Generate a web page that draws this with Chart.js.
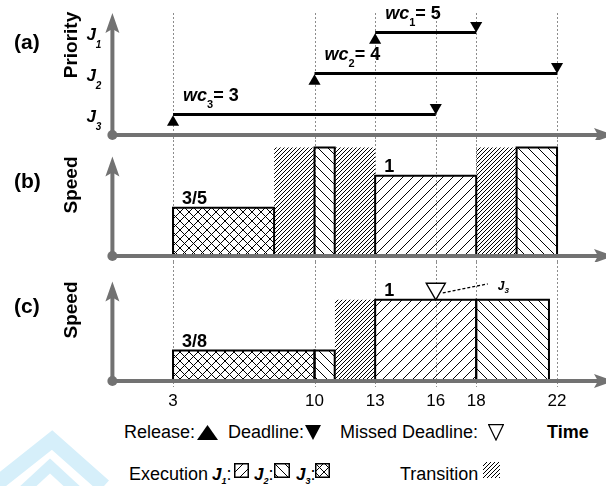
<!DOCTYPE html>
<html>
<head>
<meta charset="utf-8">
<title>Speed schedule</title>
<script src="https://cdn.jsdelivr.net/npm/chart.js@4.4.1/dist/chart.umd.min.js"></script>
<style>
  html, body { margin: 0; padding: 0; background: #fff; }
  body { position: relative; width: 606px; height: 486px; overflow: hidden;
         font-family: 'Liberation Sans', Arial, Helvetica, sans-serif; color: #000; }
  canvas.panel { position: absolute; left: 0; }
  .t { position: absolute; white-space: nowrap; line-height: 1; }
  .b { font-weight: bold; }
  .rot { transform: translate(-50%, -50%) rotate(-90deg); }
  .leg { font-size: 18px; }
  .j { font-weight: bold; font-style: italic; font-size: 17px; }
  .sub { font-size: 9px; position: relative; top: 4px; }
  .sw { position: absolute; }
</style>
</head>
<body>
<svg style="position:absolute;left:0;top:420px" width="200" height="66">
  <polyline points="-6,66 52,20 104,66" fill="none" stroke="#d6effa" stroke-width="15"/>
  <polyline points="24,70 50,46 76,70" fill="none" stroke="#d6effa" stroke-width="11"/>
</svg>

<canvas id="panelA" class="panel" width="606" height="140" style="top:0"></canvas>
<canvas id="panelB" class="panel" width="606" height="122" style="top:140px"></canvas>
<canvas id="panelC" class="panel" width="606" height="150" style="top:262px"></canvas>

<div class="t b" style="left:14px;top:31px;font-size:21px">(a)</div>
<div class="t b rot" style="left:70px;top:45px;font-size:19px">Priority</div>
<div class="t b" style="left:14px;top:170px;font-size:21px">(b)</div>
<div class="t b rot" style="left:70px;top:185px;font-size:19px">Speed</div>
<div class="t b" style="left:14px;top:295px;font-size:21px">(c)</div>
<div class="t b rot" style="left:70px;top:310px;font-size:19px">Speed</div>

<!-- legend row 1 -->
<div class="t leg" style="left:124px;top:423px">Release:</div>
<svg class="sw" style="left:197px;top:425px" width="21" height="15"><polygon points="10.5,0 21,15 0,15" fill="#000"/></svg>
<div class="t leg" style="left:228px;top:423px">Deadline:</div>
<svg class="sw" style="left:305px;top:425px" width="16" height="15"><polygon points="0,0 16,0 8,15" fill="#000"/></svg>
<div class="t leg" style="left:340px;top:423px">Missed Deadline:</div>
<svg class="sw" style="left:488px;top:424px" width="16" height="17"><polygon points="0.7,0.7 15.3,0.7 8,16" fill="#fff" stroke="#000" stroke-width="1.2"/></svg>
<div class="t leg b" style="left:547px;top:423px">Time</div>

<!-- legend row 2 -->
<div class="t leg" style="left:129px;top:465px">Execution</div>
<div class="t leg" style="left:212px;top:465px"><span class="j">J</span><span class="j sub">1</span>:</div>
<canvas class="sw" id="swJ1" width="15" height="15" style="left:234px;top:463px"></canvas>
<div class="t leg" style="left:254px;top:465px"><span class="j">J</span><span class="j sub">2</span>:</div>
<canvas class="sw" id="swJ2" width="16" height="15" style="left:274px;top:463px"></canvas>
<div class="t leg" style="left:296px;top:465px"><span class="j">J</span><span class="j sub">3</span>:</div>
<canvas class="sw" id="swJ3" width="15" height="15" style="left:315px;top:463px"></canvas>
<div class="t leg" style="left:400px;top:465px">Transition</div>
<canvas class="sw" id="swT" width="17" height="16" style="left:483px;top:462px"></canvas>

<script>
const FONT = "'Liberation Sans', Arial, Helvetica, sans-serif";
Chart.defaults.font.family = FONT;

// time axis
const tickTimes = [3, 10, 13, 16, 18, 22];
const timeMax = 24.15;

// (a) jobs: priority rows, release times, deadlines, worst-case cycles
const jobNames = ['1', '2', '3'];
const releases = [13, 10, 3];
const deadlines = [18, 22, 16];
const workloads = [5, 4, 3];
const priorityRows = [2.5, 1.5, 0.5];

// (b) schedule, T = transition
const schedBJobs = ['J3', 'T', 'J2', 'T', 'J1', 'T', 'J2'];
const schedBStart = [3, 8, 10, 11, 13, 18, 20];
const schedBEnd = [8, 10, 11, 13, 18, 20, 22];
const schedBSpeed = [0.6, 1.35, 1.35, 1.35, 1, 1.35, 1.35];
const schedBText = ['3/5', '', '', '', '1', '', ''];

// (c) schedule
const schedCJobs = ['J3', 'J2', 'T', 'J1', 'J2'];
const schedCStart = [3, 10, 11, 13, 18];
const schedCEnd = [10, 11, 13, 18, 21.6];
const schedCSpeed = [0.375, 0.375, 1, 1, 1];
const schedCText = ['3/8', '', '', '1', ''];
const missedTimes = [16];
const missedJobs = ['3'];

const AXIS = '#727272';

function hatchTile(kind) {
  const size = { J1: 10, J2: 10, J3: 9, T: 4 }[kind];
  const c = document.createElement('canvas');
  c.width = c.height = size;
  const g = c.getContext('2d');
  g.strokeStyle = '#000';
  g.lineWidth = 1;
  const fwd = () => {
    g.beginPath();
    g.moveTo(-1, size + 1); g.lineTo(size + 1, -1);
    g.moveTo(-1, 1); g.lineTo(1, -1);
    g.moveTo(size - 1, size + 1); g.lineTo(size + 1, size - 1);
    g.stroke();
  };
  const back = () => {
    g.beginPath();
    g.moveTo(-1, -1); g.lineTo(size + 1, size + 1);
    g.moveTo(size - 1, -1); g.lineTo(size + 1, 1);
    g.moveTo(-1, size - 1); g.lineTo(1, size + 1);
    g.stroke();
  };
  if (kind === 'J1' || kind === 'T') fwd();
  if (kind === 'J2') back();
  if (kind === 'J3') { fwd(); back(); }
  return c;
}

function patternsFor(ctx) {
  const p = {};
  ['J1', 'J2', 'J3', 'T'].forEach(k => { p[k] = ctx.createPattern(hatchTile(k), 'repeat'); });
  return p;
}

// text with a subscript: main (italic bold), sub, tail (bold)
function subText(ctx, x, base, main, sub, tail, size, subSize, drop, subItalic) {
  ctx.save();
  ctx.fillStyle = '#000';
  ctx.textBaseline = 'alphabetic';
  ctx.textAlign = 'left';
  ctx.font = `italic bold ${size}px ${FONT}`;
  ctx.fillText(main, x, base);
  x += ctx.measureText(main).width;
  ctx.font = `${subItalic ? 'italic ' : ''}bold ${subSize}px ${FONT}`;
  ctx.fillText(sub, x, base + drop);
  x += ctx.measureText(sub).width;
  if (tail) {
    ctx.font = `bold ${size}px ${FONT}`;
    ctx.fillText(tail, x, base);
  }
  ctx.restore();
}

function decor(opts) {
  return {
    id: 'decor',
    beforeDatasetsDraw(chart) {
      const { ctx, scales: { x } } = chart;
      ctx.save();
      ctx.strokeStyle = '#8c8c8c';
      ctx.lineWidth = 1;
      ctx.setLineDash([2, 2]);
      tickTimes.forEach(t => {
        const px = Math.round(x.getPixelForValue(t)) + 0.5;
        ctx.beginPath();
        ctx.moveTo(px, opts.gridTop);
        ctx.lineTo(px, opts.gridBottom);
        ctx.stroke();
      });
      ctx.restore();
    },
    afterDatasetsDraw(chart) {
      const { ctx, chartArea: { left, bottom } } = chart;
      ctx.save();
      ctx.strokeStyle = AXIS;
      ctx.fillStyle = AXIS;
      ctx.lineWidth = 4;
      // x axis + arrow
      ctx.beginPath(); ctx.moveTo(left, bottom); ctx.lineTo(598, bottom); ctx.stroke();
      ctx.beginPath();
      ctx.moveTo(614, bottom); ctx.lineTo(594, bottom - 7); ctx.lineTo(598, bottom); ctx.lineTo(594, bottom + 7);
      ctx.closePath(); ctx.fill();
      // y axis + arrow
      const tip = bottom - opts.yArrow;
      ctx.beginPath(); ctx.moveTo(left, bottom); ctx.lineTo(left, tip + 15); ctx.stroke();
      ctx.beginPath();
      ctx.moveTo(left, tip); ctx.lineTo(left + 7, tip + 20); ctx.lineTo(left, tip + 16); ctx.lineTo(left - 7, tip + 20);
      ctx.closePath(); ctx.fill();
      ctx.beginPath(); ctx.arc(left, bottom, 5, 0, Math.PI * 2); ctx.fill();
      ctx.restore();
      if (opts.draw) opts.draw(chart);
    }
  };
}

function panelChart(id, datasets, opts) {
  return new Chart(document.getElementById(id), {
    type: 'line',
    data: { datasets },
    options: {
      responsive: false,
      animation: false,
      events: [],
      layout: { padding: opts.padding, autoPadding: false },
      plugins: { legend: { display: false }, tooltip: { enabled: false } },
      elements: { line: { tension: 0 }, point: { radius: 0 } },
      scales: {
        x: {
          type: 'linear', min: 0, max: timeMax, display: !!opts.ticks,
          grid: { display: false, drawTicks: false },
          border: { display: false },
          afterBuildTicks: s => { s.ticks = tickTimes.map(v => ({ value: v })); },
          afterFit: s => {
            s.paddingLeft = 0; s.paddingRight = 0;
            if (opts.ticks) s.height = 30;   // band for the time labels
          },
          ticks: { color: '#000', font: { size: 17 }, padding: 10, autoSkip: false, maxRotation: 0 }
        },
        y: { type: 'linear', min: 0, max: opts.yMax, display: false }
      }
    },
    plugins: [decor(opts)]
  });
}

function barSets(jobs, starts, ends, speeds, pats) {
  return jobs.map((job, i) => ({
    type: 'line',
    data: [
      { x: starts[i], y: 0 }, { x: starts[i], y: speeds[i] },
      { x: ends[i], y: speeds[i] }, { x: ends[i], y: 0 }
    ],
    borderColor: '#000',
    borderWidth: job === 'T' ? 0 : 2,
    backgroundColor: pats[job],
    fill: 'origin',
    pointRadius: 0,
    clip: false
  }));
}

function barLabels(texts, starts, speeds) {
  return chart => {
    const { ctx, scales: { x, y } } = chart;
    ctx.save();
    ctx.fillStyle = '#000';
    ctx.font = `bold 18px ${FONT}`;
    texts.forEach((t, i) => {
      if (t) ctx.fillText(t, x.getPixelForValue(starts[i]) + 9, y.getPixelForValue(speeds[i]) - 4);
    });
    ctx.restore();
  };
}

// (a) priority panel
panelChart('panelA', [
  {
    type: 'scatter',
    data: releases.map((r, i) => ({ x: r, y: priorityRows[i] - 0.19 })),
    pointStyle: 'triangle', pointRadius: 7, pointBackgroundColor: '#000', pointBorderWidth: 0, clip: false
  },
  {
    type: 'scatter',
    data: deadlines.map((d, i) => ({ x: d, y: priorityRows[i] + 0.17 })),
    pointStyle: 'triangle', pointRotation: 180, pointRadius: 7, pointBackgroundColor: '#000', pointBorderWidth: 0, clip: false
  },
  ...jobNames.map((n, i) => ({
    type: 'line',
    data: [{ x: releases[i], y: priorityRows[i] }, { x: deadlines[i], y: priorityRows[i] }],
    borderColor: '#000', borderWidth: 3, pointRadius: 0, fill: false, clip: false
  }))
], {
  padding: { left: 112.4, right: 5.5, top: 12, bottom: 5 },
  yMax: 3, yArrow: 122, gridTop: 13, gridBottom: 140,
  draw(chart) {
    const { ctx, scales: { x, y }, chartArea } = chart;
    jobNames.forEach((n, i) => {
      const py = y.getPixelForValue(priorityRows[i]);
      subText(ctx, x.getPixelForValue(releases[i]) + 10, py - 14, 'wc', n, '= ' + workloads[i], 18, 11, 7, false);
      subText(ctx, chartArea.left - 26, py + 7, 'J', n, '', 17, 10, 8, true);
    });
  }
});

// (b) schedule
const ctxB = document.getElementById('panelB').getContext('2d');
panelChart('panelB', barSets(schedBJobs, schedBStart, schedBEnd, schedBSpeed, patternsFor(ctxB)), {
  padding: { left: 112.4, right: 5.5, top: 3.6, bottom: 6 },
  yMax: 1.4, yArrow: 99.5, gridTop: 0, gridBottom: 122,
  draw: barLabels(schedBText, schedBStart, schedBSpeed)
});

// (c) schedule with missed deadline
const ctxC = document.getElementById('panelC').getContext('2d');
const levelAt = t => {
  const i = schedCStart.findIndex((s, k) => s <= t && t < schedCEnd[k]);
  return schedCSpeed[i];
};
panelChart('panelC', [
  {
    type: 'scatter',
    data: missedTimes.map(t => ({ x: t, y: levelAt(t) + 0.136 })),
    pointStyle: 'triangle', pointRotation: 180, pointRadius: 11,
    pointBackgroundColor: '#fff', pointBorderColor: '#000', pointBorderWidth: 1.4, clip: false
  },
  ...barSets(schedCJobs, schedCStart, schedCEnd, schedCSpeed, patternsFor(ctxC))
], {
  padding: { left: 112.4, right: 5.5, top: 5.4, bottom: 1 },
  yMax: 1.4, yArrow: 99.5, gridTop: 0, gridBottom: 125, ticks: true,
  draw(chart) {
    barLabels(schedCText, schedCStart, schedCSpeed)(chart);
    const { ctx, scales: { x, y } } = chart;
    missedTimes.forEach((t, i) => {
      const px = x.getPixelForValue(t), py = y.getPixelForValue(levelAt(t));
      ctx.save();
      ctx.strokeStyle = '#000';
      ctx.lineWidth = 1.3;
      ctx.setLineDash([3, 2]);
      ctx.beginPath(); ctx.moveTo(px + 7, py - 7); ctx.lineTo(px + 52, py - 16); ctx.stroke();
      ctx.restore();
      subText(ctx, px + 62, py - 10, 'J', missedJobs[i], '', 12, 8, 3, true);
    });
  }
});

// legend swatches
['J1', 'J2', 'J3', 'T'].forEach(k => {
  const c = document.getElementById('sw' + k);
  const g = c.getContext('2d');
  g.fillStyle = g.createPattern(hatchTile(k), 'repeat');
  g.fillRect(0, 0, c.width, c.height);
  if (k !== 'T') {
    g.strokeStyle = '#000';
    g.lineWidth = 1.5;
    g.strokeRect(0.75, 0.75, c.width - 1.5, c.height - 1.5);
  }
});
</script>
</body>
</html>
